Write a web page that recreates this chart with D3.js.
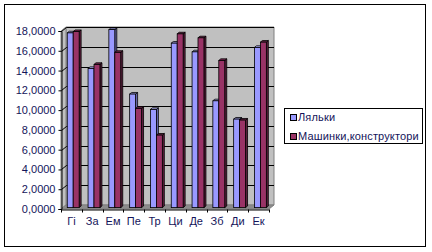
<!DOCTYPE html>
<html><head><meta charset="utf-8">
<script src="https://cdn.jsdelivr.net/npm/d3@7"></script>
<style>body{margin:0;background:#fff}svg{display:block}text{font-family:"Liberation Sans",Arial,sans-serif}</style>
</head><body>
<svg id="c" width="432" height="252"></svg>
<script>
const categories = ["Гі","За","Ем","Пе","Тр","Ци","Де","Зб","Ди","Ек"];
const seriesNames = ["Ляльки","Машинки,конструктори"];
const dolls = [17.67,14.07,18.0,11.48,9.93,16.63,15.75,10.8,8.95,16.2];
const cars  = [17.8,14.48,15.7,10.03,7.33,17.57,17.17,14.88,8.85,16.73];
const yTicks = [0,2,4,6,8,10,12,14,16,18];
const colors = ["#9999ff","#993366"];
const sideColors = ["#6b6bb3","#5c1f3d"];
const topColors = ["#b3b3ff","#7a2952"];

const svg = d3.select("#c");
const X0=61, X1=269, Y0=209, Y18=31;
const DX=5, DY=4;           // wall depth offset
const bS=1.8, bSy=1.4;      // bar front shift into depth
const bD=2, bDy=1.6;        // bar depth

const x = d3.scaleBand().domain(categories).range([X0,X1]).paddingInner(0).paddingOuter(0);
const xs = d3.scaleBand().domain(seriesNames).range([0,x.step()]).paddingInner(0).paddingOuter(0.75);
const y = d3.scaleLinear().domain([0,18]).range([Y0,Y18]);

// outer border
svg.append("rect").attr("x",4.5).attr("y",4.5).attr("width",421).attr("height",242)
  .attr("fill","#fff").attr("stroke","#000");

const poly = pts => pts.map(p=>p.join(",")).join(" ");
// back wall
svg.append("polygon").attr("points",poly([[X0+DX,y(18)-DY],[X1+DX,y(18)-DY],[X1+DX,Y0-DY],[X0+DX,Y0-DY]]))
  .attr("fill","#c0c0c0").attr("stroke","#808080");
// side wall
svg.append("polygon").attr("points",poly([[X0,y(18)],[X0+DX,y(18)-DY],[X0+DX,Y0-DY],[X0,Y0]]))
  .attr("fill","#c0c0c0").attr("stroke","#808080");
// floor
svg.append("polygon").attr("points",poly([[X0,Y0],[X0+DX,Y0-DY],[X1+DX,Y0-DY],[X1,Y0]]))
  .attr("fill","#8c8c8c").attr("stroke","#808080");
// gridlines
yTicks.filter(v=>v>0).forEach(v=>{
  svg.append("path").attr("d",`M${X0+0.5},${Math.round(y(v))+0.5}L${X0+DX+0.5},${Math.round(y(v)-DY)+0.5}H${X1+DX}`)
    .attr("fill","none").attr("stroke","#000");
});

// bars
const data = [dolls,cars];
categories.forEach((c,i)=>{
  seriesNames.forEach((s,k)=>{
    const v = data[k][i];
    const x0 = x(c)+xs(s)+bS, w = xs.bandwidth();
    const yb = Y0-bSy, yt = y(v)-bSy;
    svg.append("polygon").attr("points",poly([[x0+w,yt],[x0+w+bD,yt-bDy],[x0+w+bD,yb-bDy],[x0+w,yb]]))
      .attr("fill",sideColors[k]).attr("stroke","#000").attr("stroke-width",0.8);
    svg.append("polygon").attr("points",poly([[x0,yt],[x0+bD,yt-bDy],[x0+w+bD,yt-bDy],[x0+w,yt]]))
      .attr("fill",topColors[k]).attr("stroke","#000").attr("stroke-width",0.8);
    svg.append("rect").attr("x",x0).attr("y",yt).attr("width",w).attr("height",yb-yt)
      .attr("fill",colors[k]).attr("stroke","#000").attr("stroke-width",0.8);
  });
});

// axes
const yAxis = d3.axisLeft(y).tickValues(yTicks).tickSize(3).tickPadding(3)
  .tickFormat(d=>d3.format(".4f")(d).replace(".",","));
const gy = svg.append("g").attr("transform",`translate(${X0+0.5},0)`).call(yAxis);
gy.select(".domain").attr("stroke","#000");
gy.selectAll("text").attr("font-size",11).attr("fill","#14145a").attr("font-family","Liberation Sans, Arial, sans-serif");

const xAxis = d3.axisBottom(x).tickSize(0).tickPadding(8);
const gx = svg.append("g").attr("transform",`translate(0,${Y0+0.5})`).call(xAxis);
gx.select(".domain").attr("stroke","#000");
gx.selectAll("text").attr("font-size",11).attr("fill","#14145a").attr("font-family","Liberation Sans, Arial, sans-serif");
// category boundary ticks
d3.range(categories.length+1).forEach(i=>{
  const xx = Math.round(X0 + i*x.step())+0.5;
  gx.append("line").attr("x1",xx).attr("x2",xx).attr("y1",0).attr("y2",3).attr("stroke","#000");
});

// legend
const lg = svg.append("g");
lg.append("rect").attr("x",284.5).attr("y",108.5).attr("width",138).attr("height",35)
  .attr("fill","#fff").attr("stroke","#000");
seriesNames.forEach((s,k)=>{
  const yy = 114 + k*19;
  lg.append("rect").attr("x",290.5).attr("y",yy+0.5).attr("width",6).attr("height",6)
    .attr("fill",colors[k]).attr("stroke","#000");
  lg.append("text").attr("x",298).attr("y",yy+7).attr("font-size",11).attr("letter-spacing","0.15px")
    .attr("fill","#14145a").text(s);
});
</script>
</body></html>
